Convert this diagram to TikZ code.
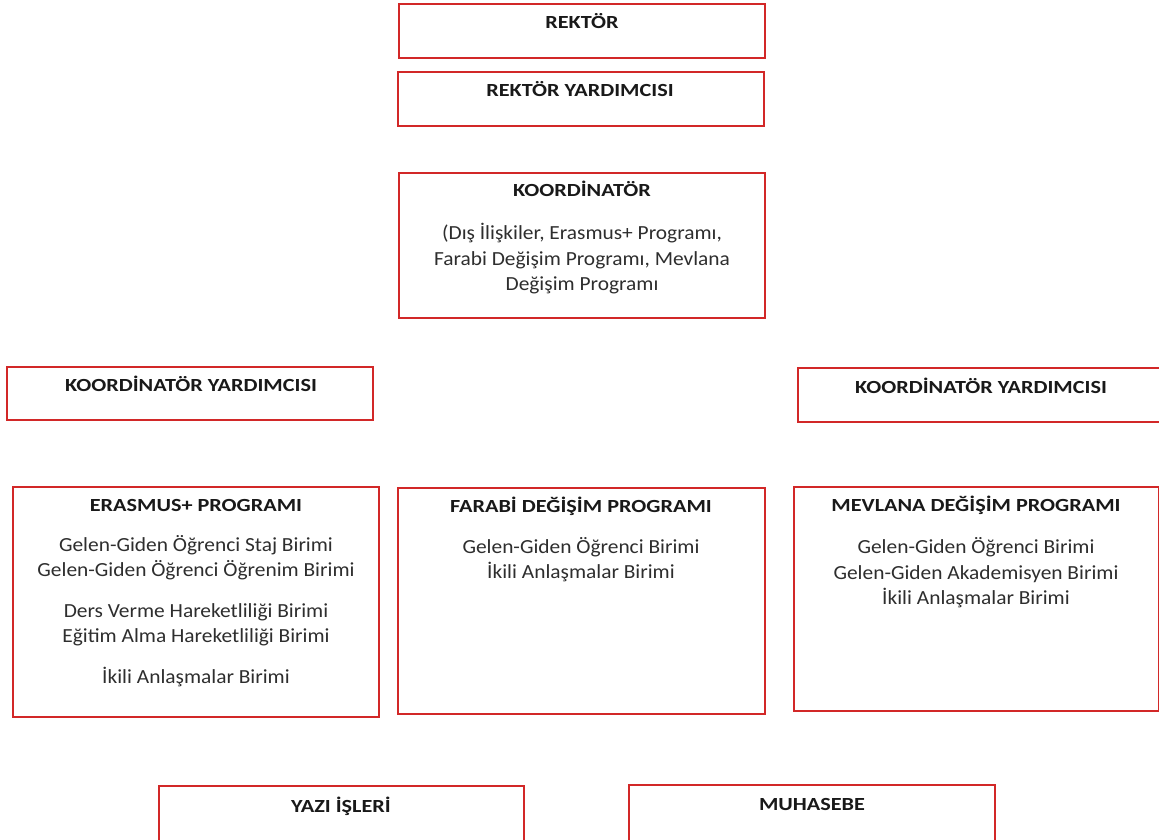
\documentclass[tikz,border=0pt]{standalone}
\usepackage{fontspec}
\setmainfont{Carlito}
\newfontfamily\ttlfont[FakeStretch=1.2]{Carlito}
\newfontfamily\bodyfont[FakeStretch=1.07]{Carlito}
\definecolor{boxred}{RGB}{210,40,40}
\tikzset{
  box/.style={draw=boxred, line width=1.2pt, fill=white, inner sep=0pt},
  ttl/.style={font=\ttlfont\fontsize{18.5}{22}\selectfont\bfseries, text=black!90, inner sep=0pt, anchor=base},
  body/.style={font=\bodyfont\fontsize{20}{25.5}\selectfont, text=black!82, align=center, inner sep=0pt, anchor=base},
}
\begin{document}
\begin{tikzpicture}[x=1pt,y=-1pt]
\useasboundingbox (0,0) rectangle (1159,839);
% boxes
\node[box, minimum width=366, minimum height=54] (rektor) at (582,31) {};
\node[box, minimum width=366, minimum height=54] (ryard) at (581,99) {};
\node[box, minimum width=366, minimum height=145] (koord) at (582,245.5) {};
\node[box, minimum width=366, minimum height=53] (kyl) at (190,393.5) {};
\node[box, minimum width=366, minimum height=54] (kyr) at (981,395) {};
\node[box, minimum width=366, minimum height=230] (erasmus) at (196,602) {};
\node[box, minimum width=367, minimum height=226] (farabi) at (581.5,601) {};
\node[box, minimum width=365, minimum height=224] (mevlana) at (976.5,599) {};
\node[box, minimum width=365, minimum height=80] (yazi) at (341.5,826) {};
\node[box, minimum width=366, minimum height=80] (muhasebe) at (812,825) {};
% titles
\node[ttl] (t1) at (582,28) {REKTÖR};
\node[ttl] (t2) at (580,96) {REKTÖR YARDIMCISI};
\node[ttl] (t3) at (582,196) {KOORDİNATÖR};
\node[ttl] (t4) at (191,391) {KOORDİNATÖR YARDIMCISI};
\node[ttl] (t5) at (981,393) {KOORDİNATÖR YARDIMCISI};
\node[ttl] (t6) at (196,511) {ERASMUS+ PROGRAMI};
\node[ttl] (t7) at (581,512) {FARABİ DEĞİŞİM PROGRAMI};
\node[ttl] (t8) at (976,511) {MEVLANA DEĞİŞİM PROGRAMI};
\node[ttl] (t9) at (341,812) {YAZI İŞLERİ};
\node[ttl] (t10) at (812,810) {MUHASEBE};
% bodies (anchor base = baseline of last line)
\node[body] (b3) at (582,290.5) {(Dış İlişkiler, Erasmus+ Programı,\\Farabi Değişim Programı, Mevlana\\Değişim Programı};
\node[body] (b6) at (196,683.5) {Gelen-Giden Öğrenci Staj Birimi\\Gelen-Giden Öğrenci Öğrenim Birimi\\[15pt]Ders Verme Hareketliliği Birimi\\Eğitim Alma Hareketliliği Birimi\\[15.5pt]İkili Anlaşmalar Birimi};
\node[body] (b7) at (581,578.5) {Gelen-Giden Öğrenci Birimi\\İkili Anlaşmalar Birimi};
\node[body] (b8) at (976,604.5) {Gelen-Giden Öğrenci Birimi\\Gelen-Giden Akademisyen Birimi\\İkili Anlaşmalar Birimi};
\end{tikzpicture}
\end{document}
